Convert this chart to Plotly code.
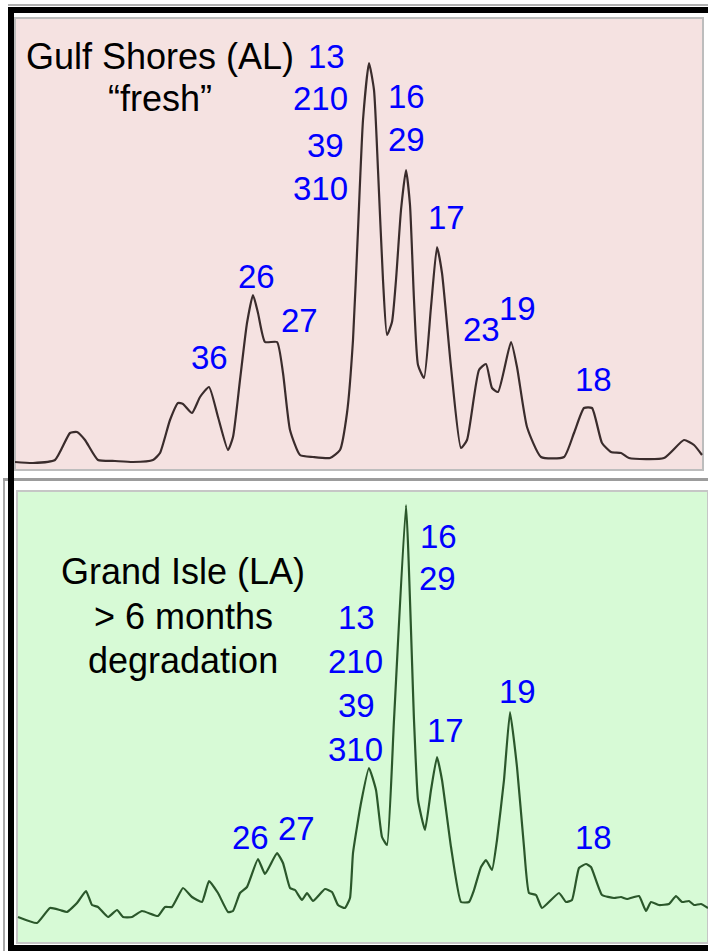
import plotly.graph_objects as go

W, H = 708, 951

# --- Gulf Shores (AL), "fresh" oil: scan number vs detector response ---
fresh_scan = [15, 33, 55, 70, 77, 85, 98, 115, 133, 153, 160, 170, 178, 183, 192, 200, 209, 218, 228, 233, 240,
              247, 253, 258, 265, 277, 283, 290, 300, 313, 330, 340, 347, 353, 358, 363, 369, 374, 378, 383, 387,
              392, 396, 401, 406, 410, 414, 418, 424, 431, 437, 442, 451, 461, 467, 479, 486, 492, 498, 511, 517,
              527, 541, 564, 574, 584, 592, 602, 611, 621, 629, 664, 684, 694, 702]
fresh_signal = [8, 7, 10, 37, 38, 30, 10, 9, 8, 10, 17, 50, 67, 66, 57, 73, 83, 53, 20, 33, 90,
                147, 175, 157, 128, 128, 97, 40, 15, 13, 12, 20, 57, 130, 240, 350, 407, 380, 300, 190, 135,
                148, 190, 260, 300, 265, 170, 105, 92, 163, 223, 197, 103, 22, 30, 100, 106, 82, 78, 128, 103,
                43, 13, 13, 37, 62, 62, 27, 18, 17, 12, 12, 30, 25, 15]

# --- Grand Isle (LA), > 6 months degradation ---
aged_scan = [18, 37, 50, 60, 67, 77, 86, 92, 98, 108, 117, 123, 132, 142, 158, 165, 172, 183, 192, 202,
             209, 218, 228, 233, 240, 247, 258, 265, 277, 283, 290, 295, 302, 307, 313, 325, 332, 338, 345, 350,
             353, 361, 369, 376, 382, 387, 394, 406, 414, 418, 425, 431, 437, 442, 451, 461, 469, 474, 481, 486,
             492, 497, 504, 510, 517, 524, 529, 536, 542, 559, 566, 572, 579, 586, 591, 602, 614, 621, 627, 639,
             646, 651, 659, 669, 676, 682, 689, 694, 701, 708]
aged_signal = [26, 20, 35, 33, 31, 40, 52, 38, 36, 26, 33, 26, 26, 32, 27, 36, 36, 55, 46, 41,
               62, 50, 31, 32, 50, 56, 84, 69, 90, 80, 55, 53, 43, 50, 42, 54, 51, 38, 35, 45,
               90, 140, 175, 153, 106, 98, 223, 438, 223, 143, 113, 153, 186, 163, 96, 41, 41, 53, 76, 83,
               73, 103, 163, 231, 176, 96, 50, 48, 35, 50, 41, 43, 75, 79, 76, 48, 45, 46, 44, 47,
               32, 41, 38, 39, 47, 41, 42, 38, 39, 35]

# --- peak labels: (text, scan, response) ---
fresh_labels = [("13", 326, 413), ("210", 320, 371), ("39", 325, 324), ("310", 320, 281),
                ("16", 406, 373), ("29", 406, 330), ("17", 446, 252), ("26", 256, 194),
                ("27", 299, 150), ("36", 209, 113), ("23", 481, 141), ("19", 517, 162),
                ("18", 593, 91)]
aged_labels = [("16", 438, 407), ("29", 437, 365), ("13", 356, 326), ("210", 355, 282),
               ("39", 356, 238), ("310", 355, 194), ("17", 445, 213), ("19", 517, 252),
               ("18", 593, 106), ("26", 250, 106), ("27", 296, 115)]

fresh_title = [("Gulf Shores (AL)", 160, 413), ("\u201cfresh\u201d", 160, 371)]
aged_title = [("Grand Isle (LA)", 183, 372), ("> 6 months", 183, 327), ("degradation", 183, 283)]


def px(x):
    return x / W


def py(y):
    return 1 - y / H


fig = go.Figure()
fig.add_trace(go.Scatter(x=fresh_scan, y=fresh_signal, mode="lines", xaxis="x", yaxis="y",
                         line=dict(color="#3a2c2c", width=2.2, shape="spline", smoothing=0.5),
                         hoverinfo="skip"))
fig.add_trace(go.Scatter(x=aged_scan, y=aged_signal, mode="lines", xaxis="x2", yaxis="y2",
                         line=dict(color="#2b572b", width=2.2, shape="spline", smoothing=0.4),
                         hoverinfo="skip"))

annotations = []
label_font = dict(family="Arial, Liberation Sans, sans-serif", size=33, color="#0000ff")
title_font = dict(family="Arial, Liberation Sans, sans-serif", size=36, color="#000000")
for txt, sx, sy in fresh_labels:
    annotations.append(dict(text=txt, x=sx, y=sy, xref="x", yref="y", showarrow=False,
                            xanchor="center", yanchor="middle", font=label_font))
for txt, sx, sy in aged_labels:
    annotations.append(dict(text=txt, x=sx, y=sy, xref="x2", yref="y2", showarrow=False,
                            xanchor="center", yanchor="middle", font=label_font))
for txt, sx, sy in fresh_title:
    annotations.append(dict(text=txt, x=sx, y=sy, xref="x", yref="y", showarrow=False,
                            xanchor="center", yanchor="middle", font=title_font))
for txt, sx, sy in aged_title:
    annotations.append(dict(text=txt, x=sx, y=sy, xref="x2", yref="y2", showarrow=False,
                            xanchor="center", yanchor="middle", font=title_font))


def rect(x0, y0, x1, y1, fill, line_color=None, line_width=0):
    return dict(type="rect", xref="paper", yref="paper", layer="below",
                x0=px(x0), x1=px(x1), y0=py(y1), y1=py(y0), fillcolor=fill,
                line=dict(color=line_color or fill, width=line_width))


shapes = [
    rect(8, 4, 708, 6, "#b0b0b0"),
    rect(15, 18, 703, 470, "#f5e2e1", "#bdbdbd", 2),
    rect(3, 478, 5, 951, "#a8a8a8"),
    rect(3, 478, 708, 481, "#9c9c9c"),
    rect(17, 491, 708, 943, "#d7fad6", "#c6c6c6", 2),
    rect(8, 7, 708, 13, "#000000"),
    rect(8, 7, 14, 951, "#000000"),
    rect(8, 945, 708, 951, "#000000"),
]

axis_common = dict(showgrid=False, zeroline=False, showticklabels=False, ticks="", showline=False)
fig.update_layout(
    width=W, height=H, margin=dict(l=0, r=0, t=0, b=0),
    paper_bgcolor="#ffffff", plot_bgcolor="rgba(0,0,0,0)", showlegend=False,
    xaxis=dict(domain=[px(15), 1], range=[15, 708], anchor="y", **axis_common),
    yaxis=dict(domain=[py(470), py(20)], range=[0, 450], anchor="x", **axis_common),
    xaxis2=dict(domain=[px(15), 1], range=[15, 708], anchor="y2", **axis_common),
    yaxis2=dict(domain=[py(943), py(492)], range=[0, 451], anchor="x2", **axis_common),
    annotations=annotations, shapes=shapes,
)

fig.write_html("out.html")
